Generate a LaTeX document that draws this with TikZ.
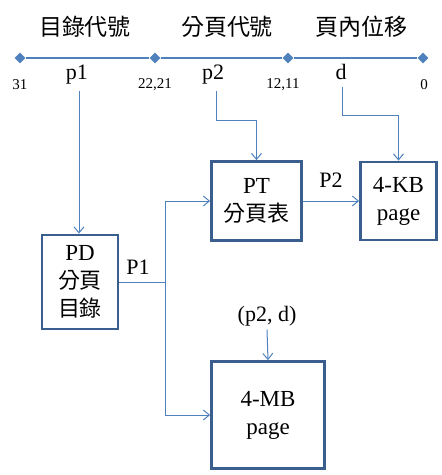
\documentclass[tikz,border=0pt]{standalone}
\usepackage{fontspec}
\setmainfont{Liberation Serif}
\newfontfamily\cjk{Noto Sans CJK TC}
\usepackage{tikz}
\usetikzlibrary{arrows.meta}
\usetikzlibrary{shapes.geometric}
\definecolor{lineblue}{HTML}{4F81BD}
\definecolor{boxblue}{HTML}{3A5F8E}

\begin{document}
\begin{tikzpicture}[x=1pt,y=-1pt,
	box/.style={draw=boxblue,line width=2.8pt,align=center,inner sep=0pt,font=\fontsize{23}{28}\selectfont},
	link/.style={draw=lineblue,line width=1pt,arrows={-Straight Barb[length=6pt,width=10pt]}},
	knot/.style={diamond,fill=lineblue,inner sep=0pt,minimum size=11pt},
	field/.style={font=\cjk\fontsize{23}{23}\selectfont},
	bits/.style={font=\fontsize{15}{15}\selectfont},
	part/.style={anchor=base,font=\fontsize{22}{22}\selectfont},
	tag/.style={font=\fontsize{22}{22}\selectfont}]
			
			\useasboundingbox (0,0) rectangle (442,475);
			
			% address line
			\node[knot] (k31) at (20,58) {};
			\node[knot] (k22) at (155,58) {};
			\node[knot] (k12) at (288,58) {};
			\node[knot] (k0) at (423,58) {};
			\draw[lineblue,line width=1.3pt] (k31) -- (k22) -- (k12) -- (k0);
			
			%labels fields
			\node[field] (dirno) at (85,27) {目錄代號};
			\node[field] (pageno) at (227,27) {分頁代號};
			\node[field] (offset) at (361,27) {頁內位移};
			
			%labels bits
			\node[bits] (b31) at (20,85) {31};
			\node[bits] (b22) at (155,85) {22,21};
			\node[bits] (b12) at (283,85) {12,11};
			\node[bits] (b0) at (424,85) {0};
			
			%labels parts
			\node[part] (p1) at (77,79) {p1};
			\node[part] (p2) at (213,79) {p2};
			\node[part] (d) at (341,79) {d};
			
			% tables and pages
			\node[box,minimum width=76pt,minimum height=94pt] (pd) at (80,282) {PD\\{\cjk\fontsize{22}{28}\selectfont 分頁}\\{\cjk\fontsize{22}{28}\selectfont 目錄}};
			\node[box,minimum width=90pt,minimum height=79pt] (pt) at (256.5,201) {PT\\{\cjk\fontsize{22}{28}\selectfont 分頁表}};
			\node[box,minimum width=76pt,minimum height=78pt] (kb) at (398.5,201) {4-KB\\page};
			\node[box,minimum width=113pt,minimum height=107pt] (mb) at (268,415) {4-MB\\page};
			
			%labels arrows
			\node[tag] (P1) at (138,267) {P1};
			\node[tag] (P2) at (331,180) {P2};
			\node[tag] (pd2) at (267,316) {(p2, d)};
			
			% arrows
			\draw[link] ([xshift=2pt,yshift=-4pt]p1.south) -- ([xshift=2pt]p1.south |- pd.north);
			\draw[link] ([xshift=3pt,yshift=-4pt]p2.south) -- ++(0,29) -| (pt.north);
			\draw[link] ([xshift=1pt,yshift=-4pt]d.south) -- ++(0,29) -| (kb.north);
			\draw[lineblue,line width=1pt] (pd.east) -- ++(46,0) coordinate (split);
			\draw[link] (split) |- (pt.west);
			\draw[link] (split) |- (mb.west);
			\draw[link] (pt.east) -- (kb.west);
			\draw[link] (pd2.south) -- (mb.north);
			
\end{tikzpicture}
\end{document}
